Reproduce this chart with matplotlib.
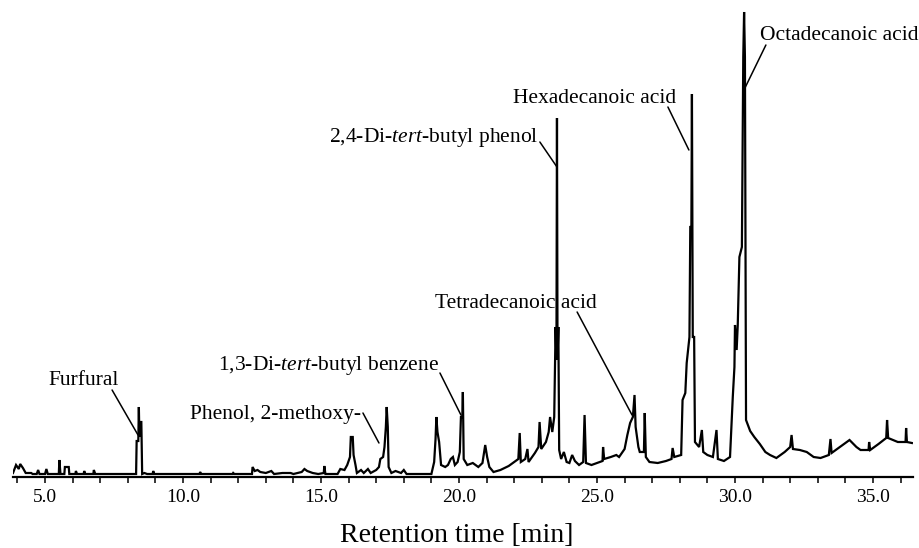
import matplotlib
matplotlib.use('Agg')
import matplotlib.pyplot as plt
from matplotlib.ticker import MultipleLocator, FormatStrFormatter

plt.rcParams['font.family'] = ['Liberation Serif', 'DejaVu Serif']
plt.rcParams['mathtext.fontset'] = 'custom'
plt.rcParams['mathtext.rm'] = 'Liberation Serif'
plt.rcParams['mathtext.it'] = 'Liberation Serif:italic'

# retention time [min] and detector signal (arbitrary units)
rt = [3.84, 3.95, 4.05, 4.10, 4.20, 4.30, 4.50, 4.55, 4.70, 4.75, 4.80, 5.00, 5.05, 5.10,
      5.50, 5.52, 5.56, 5.70, 5.72, 5.86, 5.88, 6.10, 6.12, 6.16, 6.40, 6.42, 6.46, 6.75,
      6.77, 6.82, 8.30, 8.32, 8.38, 8.40, 8.42, 8.45, 8.49, 8.52, 8.60, 8.70, 8.90, 8.92,
      8.96, 10.60, 10.62, 10.66, 11.80, 11.82, 11.86, 12.50, 12.52, 12.60, 12.70, 12.80,
      13.00, 13.20, 13.30, 13.60, 13.90, 14.00, 14.30, 14.40, 14.50, 14.70, 14.90, 15.10,
      15.12, 15.16, 15.60, 15.70, 15.85, 15.95, 16.05, 16.08, 16.15, 16.18, 16.25, 16.30,
      16.45, 16.55, 16.70, 16.80, 17.00, 17.10, 17.15, 17.25, 17.30, 17.35, 17.38, 17.42,
      17.45, 17.55, 17.70, 17.90, 18.00, 18.10, 19.00, 19.10, 19.15, 19.18, 19.22, 19.28,
      19.35, 19.50, 19.60, 19.70, 19.78, 19.85, 19.95, 20.03, 20.07, 20.12, 20.14, 20.17,
      20.30, 20.50, 20.70, 20.85, 20.95, 21.02, 21.10, 21.25, 21.50, 21.80, 22.00, 22.15,
      22.20, 22.24, 22.40, 22.48, 22.52, 22.75, 22.88, 22.92, 22.98, 23.15, 23.25, 23.30,
      23.38, 23.45, 23.50, 23.53, 23.55, 23.57, 23.60, 23.63, 23.70, 23.80, 23.90, 24.00,
      24.10, 24.20, 24.35, 24.50, 24.55, 24.60, 24.80, 25.00, 25.20, 25.22, 25.26, 25.50,
      25.70, 25.80, 26.00, 26.10, 26.20, 26.30, 26.36, 26.40, 26.50, 26.55, 26.70, 26.73,
      26.77, 26.90, 27.20, 27.50, 27.70, 27.74, 27.80, 28.05, 28.10, 28.20, 28.25, 28.35,
      28.38, 28.42, 28.44, 28.47, 28.52, 28.55, 28.70, 28.80, 28.85, 29.00, 29.20, 29.33,
      29.38, 29.60, 29.82, 29.92, 29.98, 30.00, 30.06, 30.10, 30.16, 30.25, 30.30, 30.33,
      30.36, 30.40, 30.55, 30.70, 30.90, 31.10, 31.27, 31.50, 31.80, 32.00, 32.05, 32.10,
      32.35, 32.60, 32.85, 33.10, 33.40, 33.46, 33.50, 33.80, 34.15, 34.40, 34.55, 34.84,
      34.86, 34.90, 35.20, 35.48, 35.51, 35.55, 35.90, 36.18, 36.20, 36.23, 36.41]
signal = [4, 12, 8, 13, 9, 4, 4, 3, 3, 7, 3, 3, 8, 3,
          3, 17, 3, 3, 10, 10, 3, 3, 6, 3, 3, 6, 3, 3,
          7, 3, 3, 36, 36, 70, 40, 55, 55, 3, 4, 3, 3, 6,
          3, 3, 5, 3, 3, 4, 3, 3, 10, 6, 7, 5,
          4, 6, 3, 4, 4, 3, 5, 8, 6, 4, 3, 4,
          11, 3, 3, 8, 7, 12, 20, 40, 40, 22, 12, 4,
          7, 4, 8, 4, 7, 10, 18, 20, 30, 50, 70, 50,
          10, 4, 6, 4, 7, 3, 3, 15, 38, 60, 45, 35,
          12, 10, 12, 18, 20, 12, 15, 25, 60, 60, 85, 18,
          12, 14, 10, 14, 32, 20, 10, 5, 7, 11, 15, 18,
          44, 15, 18, 28, 15, 24, 30, 55, 28, 35, 45, 60,
          45, 60, 150, 117, 359, 118, 150, 27, 18, 25, 15, 14,
          22, 16, 12, 15, 62, 14, 12, 14, 16, 30, 18, 20,
          22, 20, 28, 42, 54, 60, 82, 50, 30, 25, 25, 64,
          20, 15, 14, 16, 18, 29, 20, 22, 77, 84, 114, 140,
          250, 250, 383, 140, 140, 35, 30, 47, 25, 22, 20, 47,
          18, 16, 20, 80, 110, 152, 127, 152, 220, 230, 420, 465,
          420, 57, 46, 40, 33, 25, 22, 19, 25, 30, 42, 28,
          27, 25, 20, 19, 22, 38, 24, 30, 37, 30, 27, 27,
          35, 27, 33, 39, 57, 39, 35, 35, 49, 35, 34]

compounds = ['Furfural', 'Phenol, 2-methoxy-', r'1,3-Di-$\it{tert}$-butyl benzene',
             r'2,4-Di-$\it{tert}$-butyl phenol', 'Tetradecanoic acid',
             'Hexadecanoic acid', 'Octadecanoic acid']

# label anchor, alignment, leader line start and end (data coords)
label_pos = [(5.11, 92), (10.25, 58), (11.27, 107), (22.86, 335),
             (19.13, 169), (21.96, 374), (30.91, 437)]
label_ha = ['left', 'left', 'left', 'right', 'left', 'left', 'left']
line_from = [(7.43, 87), (16.52, 64), (19.31, 104), (22.93, 335),
             (24.28, 165), (27.57, 370), (31.12, 432)]
line_to = [(8.37, 42), (17.10, 34), (20.07, 62), (23.55, 310),
           (26.27, 62), (28.33, 327), (30.36, 389)]

fig = plt.figure(figsize=(9.19, 5.48), dpi=100)
ax = fig.add_axes([13 / 919, 71 / 548, 900 / 919, 470 / 548])

ax.plot(rt, signal, color='black', lw=1.6, solid_joinstyle='miter')

for name, pos, ha, p0, p1 in zip(compounds, label_pos, label_ha, line_from, line_to):
    ax.text(pos[0], pos[1], name, ha=ha, va='baseline', fontsize=15.5)
    ax.annotate('', xy=p1, xytext=p0,
                arrowprops=dict(arrowstyle='-', lw=1.1, color='black',
                                shrinkA=0, shrinkB=0))

ax.set_xlim(3.84, 36.45)
ax.set_ylim(0, 470)
for s in ['left', 'right', 'top']:
    ax.spines[s].set_visible(False)
ax.spines['bottom'].set_linewidth(1.6)
ax.set_yticks([])
ax.xaxis.set_major_locator(MultipleLocator(5))
ax.xaxis.set_minor_locator(MultipleLocator(1))
ax.xaxis.set_major_formatter(FormatStrFormatter('%.1f'))
ax.tick_params(axis='x', which='both', direction='out', length=4.5, width=1.1, pad=4)
ax.tick_params(axis='x', which='major', labelsize=14)

fig.text(457 / 919, 6 / 548, 'Retention time [min]', ha='center', va='baseline', fontsize=20)

fig.savefig('out.png', dpi=100)
